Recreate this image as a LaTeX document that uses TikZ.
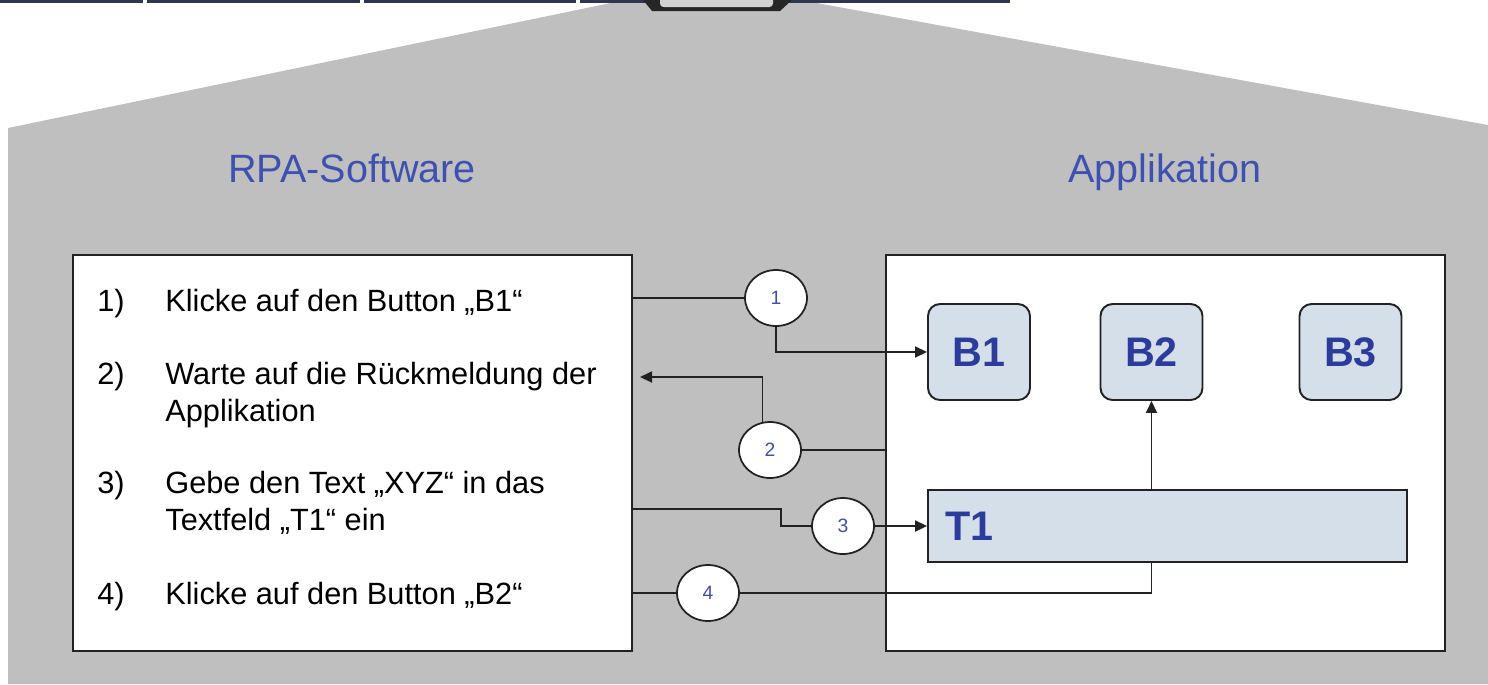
\documentclass[tikz,border=0pt]{standalone}
\usepackage{fontspec}
\setmainfont{Liberation Sans}
\usepackage{tikz}
\usetikzlibrary{positioning,arrows.meta,shapes.geometric,calc}
\definecolor{PanelGray}{HTML}{BFBFBF}
\definecolor{TitleBlue}{HTML}{3F51B0}
\definecolor{LabelBlue}{HTML}{2C3C9C}
\definecolor{FieldFill}{HTML}{D4DFE9}
\definecolor{BarNavy}{HTML}{2E3652}
\definecolor{LineDark}{HTML}{222222}

\begin{document}
\begin{tikzpicture}[x=0.02cm,y=-0.02cm,
    every node/.style={font=\fontsize{17.5pt}{21pt}\selectfont},
    panel/.style={draw=LineDark, fill=white, line width=1.1pt,
      minimum width=11.18cm, minimum height=7.92cm},
    title/.style={anchor=base, text=TitleBlue, font=\fontsize{22.5pt}{27pt}\selectfont},
    item/.style={anchor=north west, inner sep=0pt, align=left},
    btn/.style={draw=LineDark, fill=FieldFill, line width=1.1pt, rounded corners=0.24cm,
      minimum width=2.04cm, minimum height=1.92cm, text=LabelBlue,
      font=\fontsize{23.5pt}{28pt}\selectfont\bfseries},
    field/.style={draw=LineDark, fill=FieldFill, line width=1.1pt,
      minimum height=1.44cm, text width=8.9cm, inner xsep=0.34cm, align=left,
      text=LabelBlue, font=\fontsize{23.5pt}{28pt}\selectfont\bfseries},
    num/.style={ellipse, draw=LineDark, fill=white, line width=1pt,
      minimum width=1.24cm, minimum height=1.12cm, inner sep=0pt,
      text=TitleBlue, font=\fontsize{11pt}{13pt}\selectfont},
    ln/.style={LineDark, line width=1pt},
    ar/.style={-{Triangle[length=0.24cm,width=0.22cm]}, LineDark, line width=1pt}]
  \useasboundingbox (0,0) rectangle (1488,684);
  \fill[PanelGray] (8,684) -- (8,128) -- (625,0) -- (800,0) -- (1488,125) -- (1488,684) -- cycle;
  \foreach \a/\b in {0/143,147/360,364/576,580/1010}
    \fill[BarNavy] (\a,0) rectangle (\b,3);
  \fill[black!85] (643,0) -- (652,11) -- (780,11) -- (792,0) -- cycle;
  \fill[gray!35, rounded corners=2pt] (660,-4) rectangle (773,7);

  \node[panel] (rpa) at (352.5,453) {};
  \node[panel] (app) at (1165.5,453) {};
  \node[title] (rpat) at (352,182) {RPA-Software};
  \node[title] (appt) at (1165,182) {Applikation};

  \node[item] (k1) at (97,289) {1)};
  \node[item] (s1) at (165,289) {Klicke auf den Button „B1“};
  \node[item] (k2) at (97,362) {2)};
  \node[item] (s2) at (165,362) {Warte auf die Rückmeldung der\\Applikation};
  \node[item] (k3) at (97,471) {3)};
  \node[item] (s3) at (165,471) {Gebe den Text „XYZ“ in das\\Textfeld „T1“ ein};
  \node[item] (k4) at (97,582) {4)};
  \node[item] (s4) at (165,582) {Klicke auf den Button „B2“};

  \node[btn] (b1) at (979,352) {B1};
  \node[btn] (b2) at (1151.5,352) {B2};
  \node[btn] (b3) at (1350.5,352) {B3};
  \node[field] (t1) at (1167.5,526) {T1};

  \node[num] (c1) at (776,298) {1};
  \node[num] (c2) at (770,450) {2};
  \node[num] (c3) at (843,526) {3};
  \node[num] (c4) at (708,593) {4};
  \coordinate (back) at (640,377);

  \draw[ln] (rpa.east |- c1) -- (c1.west);
  \draw[ar] (c1.south) |- (b1.west);
  \draw[ln] (app.west |- c2) -- (c2.east);
  \draw[ar] (c2.105) |- (back);
  \draw[ln] ($(rpa.east |- c3)+(0,-17)$) -- ++(148,0) |- (c3.west);
  \draw[ar] (c3.east) -- (t1.west);
  \draw[ln] (rpa.east |- c4) -- (c4.west);
  \draw[ln] (c4.east) -| (b2 |- t1.south);
  \draw[ar] (b2 |- t1.north) -- (b2.south);
\end{tikzpicture}
\end{document}
